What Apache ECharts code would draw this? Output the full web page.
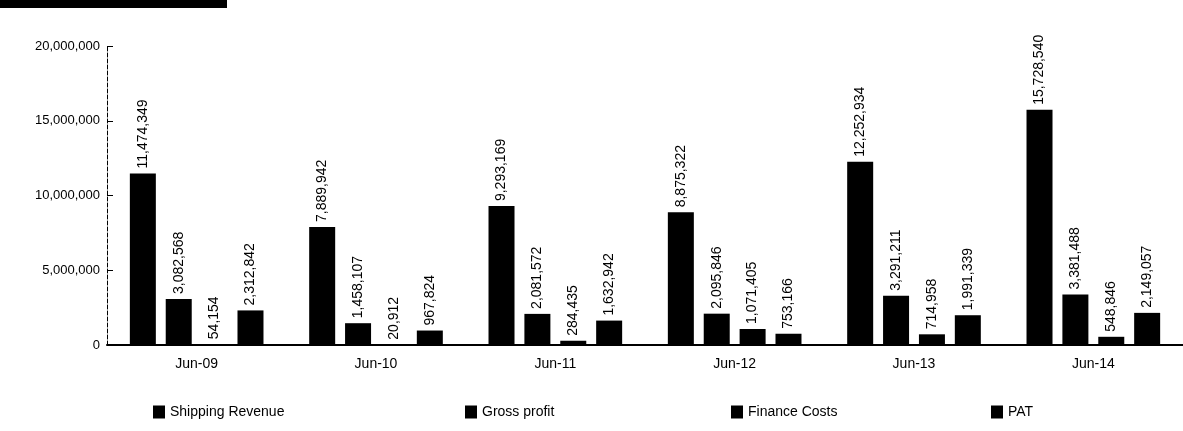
<!DOCTYPE html>
<html>
<head>
<meta charset="utf-8">
<script src="https://cdn.jsdelivr.net/npm/echarts@6/dist/echarts.min.js"></script>
<style>html,body{margin:0;padding:0;background:#fff}#c{width:1183px;height:431px}</style>
</head>
<body>
<div id="c"></div>
<script>
const categories = ['Jun-09', 'Jun-10', 'Jun-11', 'Jun-12', 'Jun-13', 'Jun-14'];
const seriesNames = ['Shipping Revenue', 'Gross profit', 'Finance Costs', 'PAT'];
const shippingRevenue = [11474349, 7889942, 9293169, 8875322, 12252934, 15728540];
const grossProfit = [3082568, 1458107, 2081572, 2095846, 3291211, 3381488];
const financeCosts = [54154, 20912, 284435, 1071405, 714958, 548846];
const pat = [2312842, 967824, 1632942, 753166, 1991339, 2149057];
const yTicks = [0, 5000000, 10000000, 15000000, 20000000];

const font = 'Liberation Sans, Arial, sans-serif';
const fmt = v => v.toLocaleString('en-US');
const allData = [shippingRevenue, grossProfit, financeCosts, pat];

const chart = echarts.init(document.getElementById('c'));
chart.setOption({
  animation: false,
  backgroundColor: '#fff',
  textStyle: { fontFamily: font, color: '#000' },
  grid: { left: 107, right: 0, top: 46, bottom: 86 },
  graphic: [
    { type: 'rect', left: 0, top: 0, shape: { width: 227, height: 8 }, style: { fill: '#000' } }
  ],
  legend: seriesNames.map((n, i) => ({
    data: [n],
    left: [148, 460, 726, 986][i],
    top: 400,
    itemWidth: 12,
    itemHeight: 13,
    itemGap: 10,
    icon: 'rect',
    textStyle: { fontFamily: font, fontSize: 14, color: '#000' }
  })),
  xAxis: {
    type: 'category',
    data: categories,
    axisLine: { lineStyle: { color: '#000', width: 2 } },
    axisTick: { show: false },
    axisLabel: { fontFamily: font, fontSize: 14, color: '#000', margin: 12 }
  },
  yAxis: {
    type: 'value',
    min: 0,
    max: 20000000,
    interval: 5000000,
    splitLine: { show: false },
    axisLine: { show: true, lineStyle: { color: '#000', width: 1, type: 'dashed' } },
    axisTick: { show: true, inside: true, length: 6, lineStyle: { color: '#000' } },
    axisLabel: {
      fontFamily: font, fontSize: 13, color: '#000', margin: 7,
      formatter: v => yTicks.includes(v) ? fmt(v) : ''
    }
  },
  series: seriesNames.map((n, i) => ({
    name: n,
    type: 'bar',
    data: allData[i],
    itemStyle: { color: '#000' },
    barWidth: 26,
    barGap: '38%',
    barCategoryGap: '25%',
    label: {
      show: true,
      position: 'top',
      rotate: 90,
      align: 'left',
      verticalAlign: 'middle',
      distance: 5,
      fontFamily: font,
      fontSize: 14,
      color: '#000',
      formatter: p => fmt(p.value)
    }
  }))
});
</script>
</body>
</html>
